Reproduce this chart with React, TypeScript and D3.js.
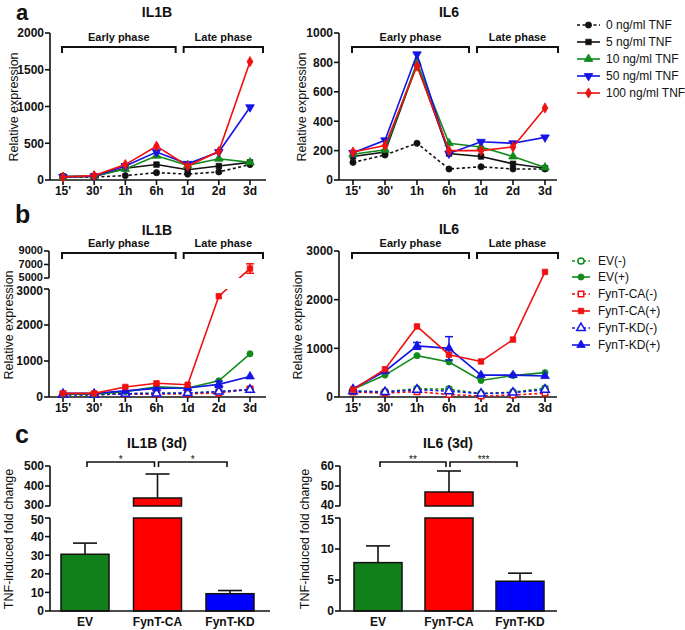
import React from 'react';
import * as d3 from 'd3';

const FONT = "'Liberation Sans', Arial, Helvetica, sans-serif";

// ---------- data ----------
const timepoints = ["15'", "30'", "1h", "6h", "1d", "2d", "3d"];

const tnfLabels = ["0 ng/ml TNF", "5 ng/ml TNF", "10 ng/ml TNF", "50 ng/ml TNF", "100 ng/ml TNF"];
const il1bTnf0 = [40, 40, 60, 100, 80, 110, 210];
const il1bTnf5 = [50, 50, 160, 210, 140, 190, 240];
const il1bTnf10 = [40, 50, 150, 330, 200, 290, 240];
const il1bTnf50 = [40, 50, 190, 380, 220, 380, 990];
const il1bTnf100 = [40, 60, 210, 460, 190, 390, 1610];
const il6Tnf0 = [120, 170, 250, 75, 90, 75, 75];
const il6Tnf5 = [160, 190, 790, 180, 160, 110, 80];
const il6Tnf10 = [175, 205, 800, 250, 225, 160, 85];
const il6Tnf50 = [185, 270, 855, 180, 260, 250, 290];
const il6Tnf100 = [190, 235, 775, 200, 200, 225, 490];

const constructLabels = ["EV(-)", "EV(+)", "FynT-CA(-)", "FynT-CA(+)", "FynT-KD(-)", "FynT-KD(+)"];
const il1bEvNeg = [70, 70, 90, 110, 110, 150, 210];
const il1bEvPos = [80, 80, 150, 280, 250, 450, 1200];
const il1bCaNeg = [80, 70, 80, 80, 90, 110, 220];
const il1bCaPos = [100, 100, 280, 380, 340, 2800, 6400];
const il1bCaPosErr = [0, 0, 0, 0, 0, 0, 700];
const il1bKdNeg = [60, 60, 90, 100, 110, 150, 200];
const il1bKdPos = [100, 100, 170, 240, 250, 350, 570];
const il1bKdPosErr = [0, 0, 0, 0, 0, 90, 0];
const il6EvNeg = [120, 110, 170, 160, 70, 100, 180];
const il6EvPos = [160, 450, 850, 720, 340, 440, 500];
const il6CaNeg = [100, 80, 110, 50, 20, 40, 80];
const il6CaPos = [150, 570, 1450, 870, 730, 1180, 2570];
const il6KdNeg = [120, 100, 150, 120, 70, 90, 150];
const il6KdPos = [170, 530, 1050, 1000, 450, 450, 430];
const il6KdPosErr = [0, 0, 70, 240, 0, 0, 0];

const groups = ["EV", "FynT-CA", "FynT-KD"];
const il1b3dMean = [30.5, 340, 9.3];
const il1b3dSem = [6, 120, 1.7];
const il6_3dMean = [7.8, 47, 4.8];
const il6_3dSem = [2.7, 10.5, 1.3];
const il1b3dStars = ["*", "*"];
const il6_3dStars = ["**", "***"];

// ---------- colours ----------
const BLACK = "#111";
const GREEN = "#138a1c";
const BLUE = "#1414e6";
const RED = "#f01010";
const BAR_GREEN = "#12801a";
const BAR_RED = "#ff0000";
const BAR_BLUE = "#0000ff";

type Series = {
  label: string;
  values: number[];
  color: string;
  dashed: boolean;
  shape: string;
  filled: boolean;
  err?: number[];
};

function symbolPath(shape: string) {
  const map: Record<string, [any, number]> = {
    circle: [d3.symbolCircle, 30],
    square: [d3.symbolSquare, 30],
    triangle: [d3.symbolTriangle, 32],
    triangleDown: [d3.symbolTriangle, 32],
    diamond: [d3.symbolDiamond, 30],
  };
  const [t, s] = map[shape];
  return d3.symbol().type(t).size(s)() as string;
}

function Marker({ shape, color, filled, x, y }: any) {
  const rot = shape === 'triangleDown' ? ' rotate(180)' : '';
  return (
    <path
      d={symbolPath(shape)}
      transform={`translate(${x},${y})${rot}`}
      fill={filled ? color : '#fff'}
      stroke={color}
      strokeWidth={filled ? 0.8 : 1.5}
    />
  );
}

const tnfSeriesA = (vals: number[][]): Series[] => [
  { label: tnfLabels[0], values: vals[0], color: BLACK, dashed: true, shape: 'circle', filled: true },
  { label: tnfLabels[1], values: vals[1], color: BLACK, dashed: false, shape: 'square', filled: true },
  { label: tnfLabels[2], values: vals[2], color: GREEN, dashed: false, shape: 'triangle', filled: true },
  { label: tnfLabels[3], values: vals[3], color: BLUE, dashed: false, shape: 'triangleDown', filled: true },
  { label: tnfLabels[4], values: vals[4], color: RED, dashed: false, shape: 'diamond', filled: true },
];

const constructSeries = (vals: number[][], errs: (number[] | undefined)[]): Series[] => [
  { label: constructLabels[0], values: vals[0], color: GREEN, dashed: true, shape: 'circle', filled: false, err: errs[0] },
  { label: constructLabels[2], values: vals[2], color: RED, dashed: true, shape: 'square', filled: false, err: errs[2] },
  { label: constructLabels[4], values: vals[4], color: BLUE, dashed: true, shape: 'triangle', filled: false, err: errs[4] },
  { label: constructLabels[1], values: vals[1], color: GREEN, dashed: false, shape: 'circle', filled: true, err: errs[1] },
  { label: constructLabels[5], values: vals[5], color: BLUE, dashed: false, shape: 'triangle', filled: true, err: errs[5] },
  { label: constructLabels[3], values: vals[3], color: RED, dashed: false, shape: 'square', filled: true, err: errs[3] },
];

function YAxis({ axisX, segments, ticks, y, nudge, fontSize }: any) {
  return (
    <g>
      {segments.map((s: number[], i: number) => (
        <line key={i} x1={axisX} x2={axisX} y1={s[0]} y2={s[1]} stroke={BLACK} strokeWidth={1.6} />
      ))}
      {ticks.map((t: number) => (
        <g key={t}>
          <line x1={axisX - 5} x2={axisX} y1={y(t)} y2={y(t)} stroke={BLACK} strokeWidth={1.6} />
          <text x={axisX - 6} y={y(t) + ((nudge && nudge[t]) || 0)} dy="0.36em" textAnchor="end" fontSize={fontSize || 12} fontWeight="bold" fontFamily={FONT} fill={BLACK}>
            {t}
          </text>
        </g>
      ))}
    </g>
  );
}

function XAxis({ axisX, xEnd, y0, x }: any) {
  return (
    <g>
      <line x1={axisX} x2={xEnd} y1={y0} y2={y0} stroke={BLACK} strokeWidth={1.6} />
      {timepoints.map((t) => (
        <g key={t}>
          <line x1={x(t)} x2={x(t)} y1={y0} y2={y0 + 5} stroke={BLACK} strokeWidth={1.6} />
          <text x={x(t)} y={y0 + 15} textAnchor="middle" fontSize={12} fontWeight="bold" fontFamily={FONT} fill={BLACK}>
            {t}
          </text>
        </g>
      ))}
    </g>
  );
}

function PhaseBrackets({ x, y }: any) {
  const e0 = x(timepoints[0]) - 1;
  const e1 = x(timepoints[4]) - 12;
  const l0 = x(timepoints[4]) - 4;
  const l1 = x(timepoints[6]) + 13;
  const br = (a: number, b: number) => `M${a},${y + 6}V${y}H${b}V${y + 6}`;
  return (
    <g>
      <path d={br(e0, e1)} fill="none" stroke={BLACK} strokeWidth={2} />
      <path d={br(l0, l1)} fill="none" stroke={BLACK} strokeWidth={2} />
      <text x={(e0 + e1) / 2} y={y - 6} textAnchor="middle" fontSize={11} fontWeight="bold" fontFamily={FONT} fill={BLACK}>Early phase</text>
      <text x={(l0 + l1) / 2} y={y - 6} textAnchor="middle" fontSize={11} fontWeight="bold" fontFamily={FONT} fill={BLACK}>Late phase</text>
    </g>
  );
}

function Lines({ series, x, y, clip }: any) {
  const line = (vals: number[]) =>
    d3.line<number>().x((_, i) => x(timepoints[i])).y((v) => y(v))(vals) as string;
  return (
    <g>
      {series.map((s: Series) => (
        <g key={s.label}>
          <path d={line(s.values)} fill="none" stroke={s.color} strokeWidth={1.6}
            strokeDasharray={s.dashed ? '3,2.5' : undefined} clipPath={clip} />
          {s.err && s.err.map((e, i) => e > 0 ? (
            <g key={i} stroke={s.color} strokeWidth={1.5}>
              <line x1={x(timepoints[i])} x2={x(timepoints[i])} y1={y(s.values[i] - e)} y2={y(s.values[i] + e)} />
              <line x1={x(timepoints[i]) - 4} x2={x(timepoints[i]) + 4} y1={y(s.values[i] + e)} y2={y(s.values[i] + e)} />
              <line x1={x(timepoints[i]) - 4} x2={x(timepoints[i]) + 4} y1={y(s.values[i] - e)} y2={y(s.values[i] - e)} />
            </g>
          ) : null)}
          {s.values.map((v, i) => (
            <Marker key={i} shape={s.shape} color={s.color} filled={s.filled} x={x(timepoints[i])} y={y(v)} />
          ))}
        </g>
      ))}
    </g>
  );
}

function Legend({ series, x0, rows, textX, w }: any) {
  return (
    <g>
      {series.map((s: Series, i: number) => (
        <g key={s.label}>
          <line x1={x0} x2={x0 + w} y1={rows[i]} y2={rows[i]} stroke={s.color} strokeWidth={1.6}
            strokeDasharray={s.dashed ? '3,2.5' : undefined} />
          <Marker shape={s.shape} color={s.color} filled={s.filled} x={x0 + w / 2} y={rows[i]} />
          <text x={textX} y={rows[i]} dy="0.36em" fontSize={12} fontFamily={FONT} fill={BLACK}>{s.label}</text>
        </g>
      ))}
    </g>
  );
}

function YLabel({ x, y, text }: any) {
  return (
    <text transform={`translate(${x},${y}) rotate(-90)`} textAnchor="middle" fontSize={12.5} fontFamily={FONT} fill={BLACK}>
      {text}
    </text>
  );
}

function Title({ x, y, text }: any) {
  return <text x={x} y={y} textAnchor="middle" fontSize={14} fontWeight="bold" fontFamily={FONT} fill={BLACK}>{text}</text>;
}

function BarPanel({ axisX, xEnd, x, lower, upper, lowerTicks, upperTicks, means, sems, stars, colors }: any) {
  const lowMax = lower.domain()[1];
  const upMin = upper.domain()[0];
  const y = (v: number) => (v <= lowMax ? lower(v) : upper(v));
  const bw = 48;
  const y0 = lower(0);
  const bars = groups.map((g, i) => {
    const cx = x(g);
    const v = means[i];
    const top = v + sems[i];
    const rects: any[] = [];
    if (v <= lowMax) {
      rects.push(<rect key="l" x={cx - bw / 2} y={lower(v)} width={bw} height={y0 - lower(v)} fill={colors[i]} stroke={BLACK} strokeWidth={1.5} />);
    } else {
      rects.push(<rect key="l" x={cx - bw / 2} y={lower(lowMax)} width={bw} height={y0 - lower(lowMax)} fill={colors[i]} stroke={BLACK} strokeWidth={1.5} />);
      rects.push(<rect key="u" x={cx - bw / 2} y={upper(v)} width={bw} height={upper(upMin) - upper(v)} fill={colors[i]} stroke={BLACK} strokeWidth={1.5} />);
    }
    return (
      <g key={g}>
        <line x1={cx} x2={cx} y1={y(v)} y2={y(top)} stroke={BLACK} strokeWidth={1.6} />
        <line x1={cx - 12} x2={cx + 12} y1={y(top)} y2={y(top)} stroke={BLACK} strokeWidth={1.6} />
        {rects}
      </g>
    );
  });
  const ticks = [...lowerTicks, ...upperTicks];
  const nudge: Record<number, number> = { [lowMax]: 1.5, [upMin]: -1.5 };
  const bracketY = upper(upper.domain()[1]) - 4;
  const cx = groups.map((g) => x(g));
  const pairs = [[cx[0] + 2, cx[1] - 3], [cx[1] + 1, cx[2] - 3]];
  return (
    <g>
      {bars}
      <YAxis axisX={axisX} segments={[[lower(0), lower(lowMax)], [upper(upMin), upper(upper.domain()[1])]]} ticks={ticks} y={y} nudge={nudge} />
      <line x1={axisX} x2={xEnd} y1={y0} y2={y0} stroke={BLACK} strokeWidth={1.6} />
      {groups.map((g) => (
        <text key={g} x={x(g)} y={y0 + 15} textAnchor="middle" fontSize={12} fontWeight="bold" fontFamily={FONT} fill={BLACK}>{g}</text>
      ))}
      {pairs.map((p, i) => (
        <g key={i}>
          <path d={`M${p[0]},${bracketY + 5}V${bracketY}H${p[1]}V${bracketY + 5}`} fill="none" stroke={BLACK} strokeWidth={1.6} />
          <text x={(p[0] + p[1]) / 2} y={bracketY + 1} textAnchor="middle" fontSize={10} fontFamily={FONT} fill={BLACK}>{stars[i]}</text>
        </g>
      ))}
    </g>
  );
}

export default function App() {
  // panel a
  const xL = d3.scalePoint<string>().domain(timepoints).range([63, 250]);
  const xR = d3.scalePoint<string>().domain(timepoints).range([353, 545]);
  const yA1 = d3.scaleLinear().domain([0, 2000]).range([180, 33]);
  const yA2 = d3.scaleLinear().domain([0, 1000]).range([180, 33]);
  const sA1 = tnfSeriesA([il1bTnf0, il1bTnf5, il1bTnf10, il1bTnf50, il1bTnf100]);
  const sA2 = tnfSeriesA([il6Tnf0, il6Tnf5, il6Tnf10, il6Tnf50, il6Tnf100]);

  // panel b
  const yB1low = d3.scaleLinear().domain([0, 3000]).range([397, 289]);
  const yB1up = d3.scaleLinear().domain([5000, 9000]).range([278, 251]);
  const yB1 = (v: number) => (v <= 3000 ? yB1low(v) : yB1up(v));
  const yB2 = d3.scaleLinear().domain([0, 3000]).range([397, 251]);
  const sB1 = constructSeries(
    [il1bEvNeg, il1bEvPos, il1bCaNeg, il1bCaPos, il1bKdNeg, il1bKdPos],
    [undefined, undefined, undefined, il1bCaPosErr, undefined, il1bKdPosErr]
  );
  const sB2 = constructSeries(
    [il6EvNeg, il6EvPos, il6CaNeg, il6CaPos, il6KdNeg, il6KdPos],
    [undefined, undefined, undefined, undefined, undefined, il6KdPosErr]
  );

  // panel c
  const xCL = d3.scalePoint<string>().domain(groups).range([85, 230]);
  const xCR = d3.scalePoint<string>().domain(groups).range([378, 520]);
  const cL_low = d3.scaleLinear().domain([0, 50]).range([611, 518]);
  const cL_up = d3.scaleLinear().domain([300, 500]).range([506, 466]);
  const cR_low = d3.scaleLinear().domain([0, 15]).range([611, 518]);
  const cR_up = d3.scaleLinear().domain([40, 60]).range([506, 466]);

  return (
    <svg width={685} height={630} style={{ position: 'absolute', left: 0, top: 0, background: '#fff' }} fontFamily={FONT}>
      <defs>
        <clipPath id="brk">
          <rect x={0} y={230} width={300} height={48} />
          <rect x={0} y={289} width={300} height={130} />
        </clipPath>
      </defs>
      <rect width={685} height={630} fill="#fff" />

      {/* panel letters */}
      <text x={16} y={20} fontSize={22} fontWeight="bold" fill={BLACK}>a</text>
      <text x={15} y={223} fontSize={25} fontWeight="bold" fill={BLACK}>b</text>
      <text x={15} y={443} fontSize={25} fontWeight="bold" fill={BLACK}>c</text>

      {/* ---- panel a left ---- */}
      <Title x={157} y={17} text="IL1B" />
      <YLabel x={18} y={107} text="Relative expression" />
      <PhaseBrackets x={xL} y={47} />
      <YAxis axisX={50} segments={[[180, 33]]} ticks={[0, 500, 1000, 1500, 2000]} y={yA1} />
      <XAxis axisX={50} xEnd={266} y0={180} x={xL} />
      <Lines series={sA1} x={xL} y={yA1} />

      {/* ---- panel a right ---- */}
      <Title x={449} y={17} text="IL6" />
      <YLabel x={306} y={107} text="Relative expression" />
      <PhaseBrackets x={xR} y={47} />
      <YAxis axisX={339} segments={[[180, 33]]} ticks={[0, 200, 400, 600, 800, 1000]} y={yA2} />
      <XAxis axisX={339} xEnd={557} y0={180} x={xR} />
      <Lines series={sA2} x={xR} y={yA2} />
      <Legend series={sA1} x0={577} w={23} textX={606} rows={[25, 42, 59, 76, 93]} />

      {/* ---- panel b left ---- */}
      <Title x={157} y={235} text="IL1B" />
      <YLabel x={13} y={325} text="Relative expression" />
      <PhaseBrackets x={xL} y={253} />
      <YAxis axisX={49} segments={[[397, 289], [278, 251]]} ticks={[0, 1000, 2000, 3000]} y={yB1}
        nudge={{ 3000: 2 }} />
      <YAxis axisX={49} segments={[]} ticks={[5000, 7000, 9000]} y={yB1} fontSize={11}
        nudge={{ 5000: -0.5, 9000: -0.5 }} />
      <XAxis axisX={49} xEnd={266} y0={397} x={xL} />
      <Lines series={sB1} x={xL} y={yB1} clip="url(#brk)" />

      {/* ---- panel b right ---- */}
      <Title x={449} y={234} text="IL6" />
      <YLabel x={302} y={325} text="Relative expression" />
      <PhaseBrackets x={xR} y={253} />
      <YAxis axisX={339} segments={[[397, 251]]} ticks={[0, 1000, 2000, 3000]} y={yB2} />
      <XAxis axisX={339} xEnd={557} y0={397} x={xR} />
      <Lines series={sB2} x={xR} y={yB2} />
      <Legend
        series={[sB1[0], sB1[3], sB1[1], sB1[5], sB1[2], sB1[4]]}
        x0={572} w={18} textX={598} rows={[261, 277, 294, 311, 328, 345]}
      />

      {/* ---- panel c left ---- */}
      <Title x={157} y={448} text="IL1B (3d)" />
      <YLabel x={13} y={539} text="TNF-induced fold change" />
      <BarPanel axisX={50} xEnd={270} x={xCL} lower={cL_low} upper={cL_up}
        lowerTicks={[0, 10, 20, 30, 40, 50]} upperTicks={[300, 400, 500]}
        means={il1b3dMean} sems={il1b3dSem} stars={il1b3dStars} colors={[BAR_GREEN, BAR_RED, BAR_BLUE]} />

      {/* ---- panel c right ---- */}
      <Title x={448} y={448} text="IL6 (3d)" />
      <YLabel x={309} y={539} text="TNF-induced fold change" />
      <BarPanel axisX={340} xEnd={557} x={xCR} lower={cR_low} upper={cR_up}
        lowerTicks={[0, 5, 10, 15]} upperTicks={[40, 50, 60]}
        means={il6_3dMean} sems={il6_3dSem} stars={il6_3dStars} colors={[BAR_GREEN, BAR_RED, BAR_BLUE]} />
    </svg>
  );
}
